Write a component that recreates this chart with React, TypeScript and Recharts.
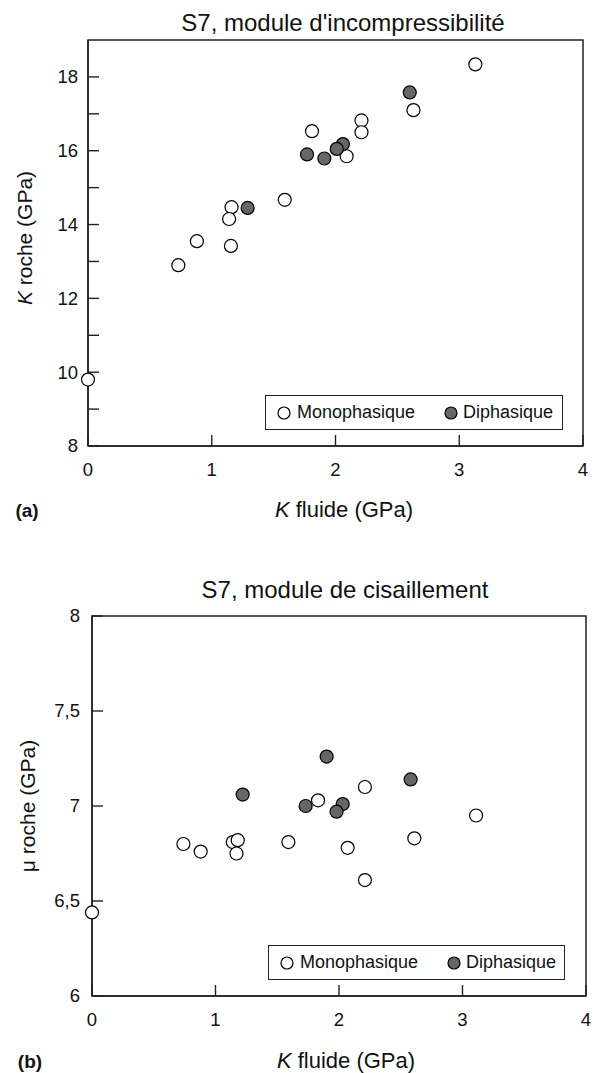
import { ReferenceArea, Legend, Scatter, ScatterChart, XAxis, YAxis } from "recharts";

// (a) bulk modulus
const monoKFluid = [3.13, 2.63, 2.21, 2.21, 1.81, 2.09, 1.59, 1.16, 1.14, 0.88, 1.155, 0.73, 0];
const monoKRock = [18.34, 17.1, 16.82, 16.5, 16.53, 15.85, 14.67, 14.47, 14.15, 13.55, 13.42, 12.9, 9.8];
const diKFluid = [2.6, 2.06, 2.01, 1.91, 1.77, 1.29];
const diKRock = [17.58, 16.18, 16.05, 15.79, 15.9, 14.45];

// (b) shear modulus
const monoMuFluid = [2.21, 1.83, 3.11, 2.61, 2.07, 2.21, 1.59, 1.14, 1.18, 1.17, 0.74, 0.88, 0];
const monoMuRock = [7.1, 7.03, 6.95, 6.83, 6.78, 6.61, 6.81, 6.81, 6.82, 6.75, 6.8, 6.76, 6.44];
const diMuFluid = [1.9, 2.58, 1.22, 1.73, 2.03, 1.98];
const diMuRock = [7.26, 7.14, 7.06, 7.0, 7.01, 6.97];

const xTicks = [0, 1, 2, 3, 4];
const kTicks = [8, 9, 10, 11, 12, 13, 14, 15, 16, 17, 18];
const kLabels = [8, 10, 12, 14, 16, 18];
const muTicks = [6, 6.5, 7, 7.5, 8];

const seriesNames = ["Monophasique", "Diphasique"];

const FONT = "'Liberation Sans', Arial, sans-serif";
const AXIS = "#222";
const DARK = "#666";
const TICK_LEN = 11;

const toPoints = (xs: number[], ys: number[]) => xs.map((x, i) => ({ x, y: ys[i] }));
const comma = (v: number) => String(v).replace(".", ",");

function Dot(props: any) {
  const { cx, cy, fill } = props;
  return <circle cx={cx} cy={cy} r={6.5} fill={fill} stroke="#000" strokeWidth={1.2} />;
}

function makeYTick(gap: number, labels: number[] | null) {
  return (props: any) => {
    const { x, y, payload } = props;
    const axisX = x + gap;
    const v = payload.value as number;
    const show = labels ? labels.includes(v) : true;
    return (
      <g>
        <line x1={axisX} x2={axisX + TICK_LEN} y1={y} y2={y} stroke={AXIS} strokeWidth={1.4} />
        {show && (
          <text x={x} y={y} dy="0.35em" textAnchor="end" fontSize={18.5} fill="#111" fontFamily={FONT}>
            {comma(v)}
          </text>
        )}
      </g>
    );
  };
}

function makeXTick(gap: number) {
  return (props: any) => {
    const { x, y, payload } = props;
    const axisY = y - gap;
    return (
      <g>
        <line x1={x} x2={x} y1={axisY} y2={axisY - TICK_LEN} stroke={AXIS} strokeWidth={1.4} />
        <text x={x} y={y} dy="0.71em" textAnchor="middle" fontSize={18.5} fill="#111" fontFamily={FONT}>
          {payload.value}
        </text>
      </g>
    );
  };
}

function LegendBox() {
  const item = (cx: number, textLeft: number, fill: string, label: string) => (
    <>
      <svg width={16} height={16} style={{ position: "absolute", left: cx - 8, top: 8.5 }}>
        <circle cx={8} cy={8} r={6} fill={fill} stroke="#000" strokeWidth={1.2} />
      </svg>
      <span style={{ position: "absolute", left: textLeft, top: 6, fontSize: 18, lineHeight: "20px", whiteSpace: "nowrap" }}>
        {label}
      </span>
    </>
  );
  return (
    <div
      style={{
        position: "relative",
        boxSizing: "border-box",
        width: "100%",
        height: "100%",
        border: `1.4px solid ${AXIS}`,
        background: "#fff",
        fontFamily: FONT,
        color: "#111",
      }}
    >
      {item(18, 31, "#fff", seriesNames[0])}
      {item(185, 197, DARK, seriesNames[1])}
    </div>
  );
}

const abs = (left: number, top: number, transform: string, extra: any = {}) => ({
  position: "absolute" as const,
  left,
  top,
  fontFamily: FONT,
  color: "#111",
  whiteSpace: "nowrap" as const,
  lineHeight: 1,
  transform,
  ...extra,
});

const center = "translate(-50%, -50%)";
const vertical = "translate(-50%, -50%) rotate(-90deg)";

export default function App() {
  return (
    <div style={{ position: "absolute", left: 0, top: 0, width: 596, height: 1073, background: "#fff", fontFamily: FONT }}>
      {/* (a) */}
      <div style={abs(343, 23, center, { fontSize: 24 })}>S7, module d'incompressibilité</div>
      <div style={{ position: "absolute", left: 0, top: 0 }}>
        <ScatterChart width={596} height={480} margin={{ top: 40, right: 13, left: 0, bottom: 0 }}>
          <XAxis
            type="number"
            dataKey="x"
            domain={[0, 4]}
            ticks={xTicks}
            height={34}
            stroke={AXIS}
            strokeWidth={1.5}
            tickSize={0}
            tickMargin={17}
            tickLine={false}
            tick={makeXTick(17)}
          />
          <YAxis
            type="number"
            dataKey="y"
            domain={[8, 19]}
            ticks={kTicks}
            width={88}
            stroke={AXIS}
            strokeWidth={1.5}
            tickSize={0}
            tickMargin={10}
            tickLine={false}
            tick={makeYTick(10, kLabels)}
          />
          <ReferenceArea x1={0} x2={4} y1={8} y2={19} fill="none" stroke={AXIS} strokeWidth={1.5} ifOverflow="visible" />
          <Scatter name={seriesNames[0]} data={toPoints(monoKFluid, monoKRock)} fill="#fff" shape={Dot} isAnimationActive={false} />
          <Scatter name={seriesNames[1]} data={toPoints(diKFluid, diKRock)} fill={DARK} shape={Dot} isAnimationActive={false} />
          <Legend
            layout="horizontal"
            verticalAlign="middle"
            align="center"
            content={() => <LegendBox />}
            wrapperStyle={{ left: 265, top: 395, width: 298, height: 35, bottom: "auto", right: "auto", margin: 0 }}
          />
        </ScatterChart>
      </div>
      <div style={abs(24, 238, vertical, { fontSize: 21 })}>
        <i>K</i> roche (GPa)
      </div>
      <div style={abs(344, 510, center, { fontSize: 22 })}>
        <i>K</i> fluide (GPa)
      </div>
      <div style={abs(27, 510, center, { fontSize: 19, fontWeight: 700 })}>(a)</div>

      {/* (b) */}
      <div style={abs(345, 590, center, { fontSize: 24 })}>S7, module de cisaillement</div>
      <div style={{ position: "absolute", left: 0, top: 576 }}>
        <ScatterChart width={596} height={454} margin={{ top: 40, right: 10, left: 0, bottom: 0 }}>
          <XAxis
            type="number"
            dataKey="x"
            domain={[0, 4]}
            ticks={xTicks}
            height={34}
            stroke={AXIS}
            strokeWidth={1.5}
            tickSize={0}
            tickMargin={17}
            tickLine={false}
            tick={makeXTick(17)}
          />
          <YAxis
            type="number"
            dataKey="y"
            domain={[6, 8]}
            ticks={muTicks}
            width={92}
            stroke={AXIS}
            strokeWidth={1.5}
            tickSize={0}
            tickMargin={12}
            tickLine={false}
            tick={makeYTick(12, null)}
          />
          <ReferenceArea x1={0} x2={4} y1={6} y2={8} fill="none" stroke={AXIS} strokeWidth={1.5} ifOverflow="visible" />
          <Scatter name={seriesNames[0]} data={toPoints(monoMuFluid, monoMuRock)} fill="#fff" shape={Dot} isAnimationActive={false} />
          <Scatter name={seriesNames[1]} data={toPoints(diMuFluid, diMuRock)} fill={DARK} shape={Dot} isAnimationActive={false} />
          <Legend
            layout="horizontal"
            verticalAlign="middle"
            align="center"
            content={() => <LegendBox />}
            wrapperStyle={{ left: 268, top: 369, width: 297, height: 35, bottom: "auto", right: "auto", margin: 0 }}
          />
        </ScatterChart>
      </div>
      <div style={abs(27, 806, vertical, { fontSize: 21 })}>μ roche (GPa)</div>
      <div style={abs(346, 1061, center, { fontSize: 22 })}>
        <i>K</i> fluide (GPa)
      </div>
      <div style={abs(30, 1061, center, { fontSize: 19, fontWeight: 700 })}>(b)</div>
    </div>
  );
}
